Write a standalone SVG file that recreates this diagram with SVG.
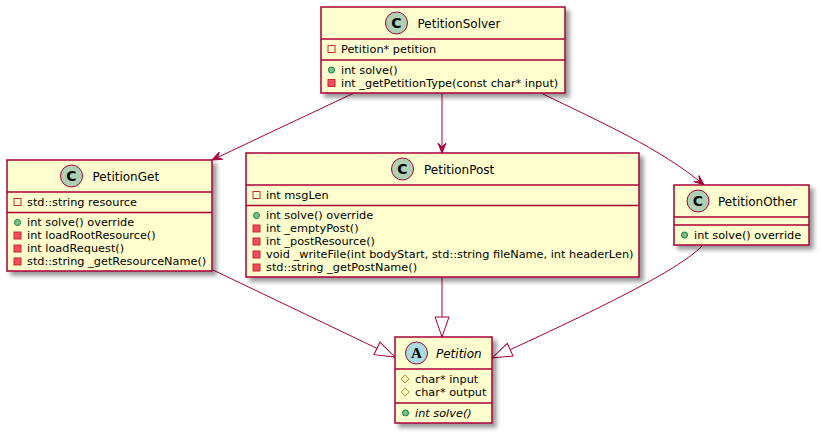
<svg xmlns="http://www.w3.org/2000/svg" width="822" height="437" viewBox="0 0 822 437">
<defs>
<filter id="sh" x="-1" y="-1" width="300%" height="300%">
<feGaussianBlur in="SourceAlpha" stdDeviation="2" result="b"/>
<feColorMatrix in="b" type="matrix" values="0 0 0 0 0 0 0 0 0 0 0 0 0 0 0 0 0 0 .4 0" result="b2"/>
<feOffset in="b2" dx="4" dy="4" result="b3"/>
<feBlend in="SourceGraphic" in2="b3" mode="normal"/>
</filter>
<marker id="arr" markerUnits="userSpaceOnUse" viewBox="-11 -5 12 10" refX="0" refY="0" markerWidth="12" markerHeight="10" orient="auto" overflow="visible">
<path d="M0,0 L-10,-4 L-6,0 L-10,4 Z" fill="#A80036" stroke="#A80036" stroke-width="1"/>
</marker>
<marker id="ext" markerUnits="userSpaceOnUse" viewBox="-21 -8 22 16" refX="0" refY="0" markerWidth="22" markerHeight="16" orient="auto" overflow="visible">
<path d="M0,0 L-20,-7 L-20,7 Z" fill="#FFFFFF" stroke="#A80036" stroke-width="1"/>
</marker>
</defs>
<style>
.box{fill:#FEFECE;stroke:#A80036;stroke-width:1.5;}
.sep{stroke:#A80036;stroke-width:1.5;}
.cc{fill:#ADD1B2;stroke:#A80036;stroke-width:1;}
.ca{fill:#A9DCDF;stroke:#A80036;stroke-width:1;}
.name{font-family:"DejaVu Sans",sans-serif;font-size:12px;fill:#000000;}
.mem{font-family:"DejaVu Sans",sans-serif;font-size:11.3px;fill:#000000;}
.letter{font-family:"DejaVu Sans",sans-serif;font-size:14px;font-weight:bold;fill:#000000;}
.pf{fill:none;stroke:#C82930;stroke-width:1;}
.pm{fill:#F24D5C;stroke:#C82930;stroke-width:1;}
.pub{fill:#84BE84;stroke:#038048;stroke-width:1;}
.prot{fill:none;stroke:#B38D22;stroke-width:1;}
.edge{fill:none;stroke:#A80036;stroke-width:1;}
</style>

<g id="connectors">
<path class="edge" d="M354,93 L212,160" marker-end="url(#arr)"/>
<path class="edge" d="M442,93 L442,153" marker-end="url(#arr)"/>
<path class="edge" d="M541,93 C600,122 660,148 704,185" marker-end="url(#arr)"/>
<path class="edge" d="M213,270 L395,357" marker-end="url(#ext)"/>
<path class="edge" d="M442,277 L442,337" marker-end="url(#ext)"/>
<path class="edge" d="M703,245 C684,265 630,295 492,358" marker-end="url(#ext)"/>
</g>

<g id="PetitionSolver">
<rect class="box" x="321" y="7" width="244" height="86" filter="url(#sh)"/>
<circle class="cc" cx="396.5" cy="23" r="11"/>
<text class="letter" x="396.5" y="28" text-anchor="middle">C</text>
<text class="name" x="417.5" y="27.8">PetitionSolver</text>
<line class="sep" x1="321" y1="39" x2="565" y2="39"/>
<rect class="pf" x="328" y="45.5" width="7" height="7"/>
<text class="mem" x="341" y="52.5">Petition* petition</text>
<line class="sep" x1="321" y1="60" x2="565" y2="60"/>
<circle class="pub" cx="331.5" cy="70" r="3"/>
<text class="mem" x="341" y="73.5">int solve()</text>
<rect class="pm" x="328" y="79.5" width="7" height="7"/>
<text class="mem" x="341" y="86.5">int _getPetitionType(const char* input)</text>
</g>

<g id="PetitionGet">
<rect class="box" x="7" y="160" width="205" height="111" filter="url(#sh)"/>
<circle class="cc" cx="71.5" cy="176" r="11"/>
<text class="letter" x="71.5" y="181" text-anchor="middle">C</text>
<text class="name" x="92.5" y="180.8">PetitionGet</text>
<line class="sep" x1="7" y1="192" x2="212" y2="192"/>
<rect class="pf" x="14" y="198.5" width="7" height="7"/>
<text class="mem" x="27" y="205.5">std::string resource</text>
<line class="sep" x1="7" y1="212.5" x2="212" y2="212.5"/>
<circle class="pub" cx="17.5" cy="222.5" r="3"/>
<text class="mem" x="27" y="226">int solve() override</text>
<rect class="pm" x="14" y="232" width="7" height="7"/>
<text class="mem" x="27" y="239">int loadRootResource()</text>
<rect class="pm" x="14" y="245" width="7" height="7"/>
<text class="mem" x="27" y="252">int loadRequest()</text>
<rect class="pm" x="14" y="258" width="7" height="7"/>
<text class="mem" x="27" y="265">std::string _getResourceName()</text>
</g>

<g id="PetitionPost">
<rect class="box" x="246" y="153" width="393" height="124" filter="url(#sh)"/>
<circle class="cc" cx="402.5" cy="169" r="11"/>
<text class="letter" x="402.5" y="174" text-anchor="middle">C</text>
<text class="name" x="424" y="173.8">PetitionPost</text>
<line class="sep" x1="246" y1="185" x2="639" y2="185"/>
<rect class="pf" x="253" y="191.5" width="7" height="7"/>
<text class="mem" x="266" y="198.5">int msgLen</text>
<line class="sep" x1="246" y1="205.5" x2="639" y2="205.5"/>
<circle class="pub" cx="256.5" cy="215.5" r="3"/>
<text class="mem" x="266" y="219">int solve() override</text>
<rect class="pm" x="253" y="225" width="7" height="7"/>
<text class="mem" x="266" y="232">int _emptyPost()</text>
<rect class="pm" x="253" y="238" width="7" height="7"/>
<text class="mem" x="266" y="245">int _postResource()</text>
<rect class="pm" x="253" y="251" width="7" height="7"/>
<text class="mem" x="266" y="258">void _writeFile(int bodyStart, std::string fileName, int headerLen)</text>
<rect class="pm" x="253" y="264" width="7" height="7"/>
<text class="mem" x="266" y="271">std::string _getPostName()</text>
</g>

<g id="PetitionOther">
<rect class="box" x="674" y="185" width="135" height="60" filter="url(#sh)"/>
<circle class="cc" cx="698" cy="201" r="11"/>
<text class="letter" x="698" y="206" text-anchor="middle">C</text>
<text class="name" x="718" y="205.8">PetitionOther</text>
<line class="sep" x1="674" y1="217" x2="809" y2="217"/>
<line class="sep" x1="674" y1="225" x2="809" y2="225"/>
<circle class="pub" cx="684.5" cy="235" r="3"/>
<text class="mem" x="694" y="238.5">int solve() override</text>
</g>

<g id="Petition">
<rect class="box" x="395" y="337" width="97" height="86" filter="url(#sh)"/>
<circle class="ca" cx="416.5" cy="353" r="11"/>
<text x="416.5" y="358" text-anchor="middle" style="font-family:'Liberation Serif',serif;font-size:15px;font-weight:bold;fill:#000000;">A</text>
<text class="name" x="436" y="357.8" font-style="italic">Petition</text>
<line class="sep" x1="395" y1="369" x2="492" y2="369"/>
<path class="prot" d="M405,375 L409,379 L405,383 L401,379 Z"/>
<text class="mem" x="415" y="382.5">char* input</text>
<path class="prot" d="M405,388 L409,392 L405,396 L401,392 Z"/>
<text class="mem" x="415" y="395.5">char* output</text>
<line class="sep" x1="395" y1="403" x2="492" y2="403"/>
<circle class="pub" cx="405.5" cy="413" r="3"/>
<text class="mem" x="415" y="416.5" font-style="italic">int solve()</text>
</g>
</svg>
